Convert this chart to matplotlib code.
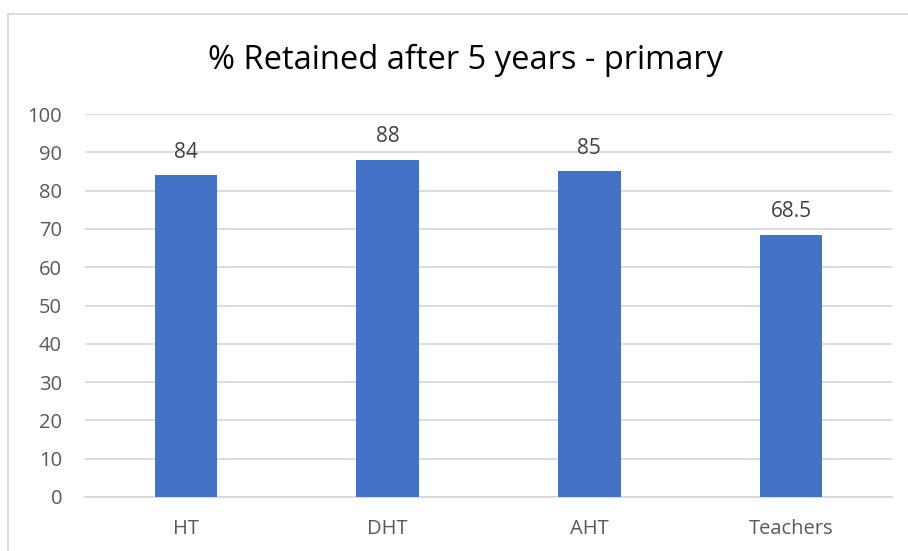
import matplotlib
matplotlib.use("Agg")
import matplotlib.pyplot as plt
from matplotlib.lines import Line2D

categories = ["HT", "DHT", "AHT", "Teachers"]
retained = [84, 88, 85, 68.5]
value_labels = ["84", "88", "85", "68.5"]
y_ticks = [0, 10, 20, 30, 40, 50, 60, 70, 80, 90, 100]

plt.rcParams["font.family"] = ["Open Sans", "DejaVu Sans"]

fig = plt.figure(figsize=(9.08, 5.51), dpi=100)
ax = fig.add_axes([85 / 908, 1 - 497 / 551, 807 / 908, 383 / 551])

x = list(range(len(categories)))
ax.bar(x, retained, width=0.31, color="#4472C4", zorder=3)
for xi, v, lab in zip(x, retained, value_labels):
    ax.annotate(lab, (xi, v), xytext=(0, 9), textcoords="offset points",
                ha="center", va="bottom", fontsize=15, color="#404040")

ax.set_xlim(-0.5, len(categories) - 0.5)
ax.set_ylim(0, 100)
ax.set_yticks(y_ticks)
ax.set_xticks(x)
ax.set_xticklabels(categories)
ax.tick_params(axis="y", length=0, pad=16.5, labelsize=14.5, labelcolor="#595959")
ax.tick_params(axis="x", length=0, pad=16, labelsize=14.5, labelcolor="#595959")
ax.grid(axis="y", color="#D9D9D9", linewidth=1.3, zorder=0)
for s in ["top", "right", "left"]:
    ax.spines[s].set_visible(False)
ax.spines["bottom"].set_color("#D9D9D9")
ax.spines["bottom"].set_linewidth(1.3)

fig.text(465 / 908, 1 - 60 / 551, "% Retained after 5 years - primary",
         ha="center", va="center", fontsize=23.5, color="#000000")

# partial chart frame (top and left edges)
fig.add_artist(Line2D([8 / 908, 1], [1 - 14 / 551, 1 - 14 / 551],
                      transform=fig.transFigure, color="#D9D9D9", lw=1.3))
fig.add_artist(Line2D([8 / 908, 8 / 908], [0, 1 - 14 / 551],
                      transform=fig.transFigure, color="#D9D9D9", lw=1.3))

fig.savefig("out.png", dpi=100)
